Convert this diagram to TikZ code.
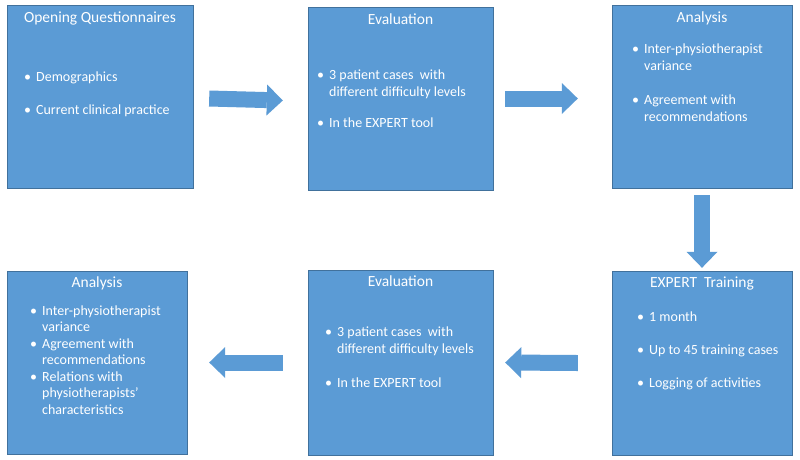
\documentclass[tikz,border=0pt]{standalone}
\usepackage{fontspec}
\setmainfont{Carlito}
\usepackage{tikz}
\usetikzlibrary{arrows.meta,positioning}
\definecolor{boxc}{HTML}{5B9BD5}
\definecolor{edgec}{HTML}{41719C}
\tikzset{
  box/.style={draw=edgec,thin,fill=boxc,inner sep=0pt},
  ttl/.style={text=white,font=\fontsize{15.5}{18}\selectfont,anchor=base},
  body/.style={text=white,font=\fontsize{14}{17}\selectfont,anchor=base west,inner sep=0pt},
  ar/.style={boxc,line width=16pt,-{Triangle[length=16pt,width=31pt,line width=0pt]}}
}
\newcommand{\bl}{\textbullet}

\begin{document}
\begin{tikzpicture}[x=1pt,y=-1pt]
\useasboundingbox[fill=white] (0,0) rectangle (800,459);
\node[box,minimum width=186pt,minimum height=183pt] (oq) at (100,96.5) {};
\node[box,minimum width=185pt,minimum height=183pt] (ev1) at (400.5,98.5) {};
\node[box,minimum width=180pt,minimum height=183pt] (an1) at (702,96.5) {};
\node[box,minimum width=180pt,minimum height=184pt] (tr) at (702,363) {};
\node[box,minimum width=185pt,minimum height=185pt] (ev2) at (400.5,362.5) {};
\node[box,minimum width=180pt,minimum height=183pt] (an2) at (97,362.5) {};
\node[ttl] at ([yshift=-18pt]oq.north) {Opening Questionnaires};
\node[ttl] at ([yshift=-18pt]ev1.north) {Evaluation};
\node[ttl] at ([yshift=-18pt]an1.north) {Analysis};
\node[ttl] at ([yshift=-17pt]tr.north) {EXPERT\ \ Training};
\node[ttl] at ([yshift=-17pt]ev2.north) {Evaluation};
\node[ttl] at ([yshift=-17pt]an2.north) {Analysis};
\node[body] at (24,81) {\begin{tabular}[t]{@{}l@{\hspace{5pt}}l@{}}
  \bl & Demographics\\[16pt]
  \bl & Current clinical practice
\end{tabular}};
\node[body] at (317,79) {\begin{tabular}[t]{@{}l@{\hspace{5pt}}l@{}}
  \bl & 3 patient cases\ \ with\\
      & different difficulty levels\\[14pt]
  \bl & In the EXPERT tool
\end{tabular}};
\node[body] at (632,53) {\begin{tabular}[t]{@{}l@{\hspace{5pt}}l@{}}
  \bl & Inter-physiotherapist\\
      & variance\\[17pt]
  \bl & Agreement with\\
      & recommendations
\end{tabular}};
\node[body] at (637,321) {\begin{tabular}[t]{@{}l@{\hspace{5pt}}l@{}}
  \bl & 1 month\\[16pt]
  \bl & Up to 45 training cases\\[16pt]
  \bl & Logging of activities
\end{tabular}};
\node[body] at (325,336) {\begin{tabular}[t]{@{}l@{\hspace{5pt}}l@{}}
  \bl & 3 patient cases\ \ with\\
      & different difficulty levels\\[17pt]
  \bl & In the EXPERT tool
\end{tabular}};
\node[body,font=\fontsize{14}{16.5}\selectfont] at (30,315) {\begin{tabular}[t]{@{}l@{\hspace{5pt}}l@{}}
  \bl & Inter-physiotherapist\\
      & variance\\
  \bl & Agreement with\\
      & recommendations\\
  \bl & Relations with\\
      & physiotherapists'\\
      & characteristics
\end{tabular}};
\draw[ar] ([xshift=16pt,yshift=-2pt]oq.east) -- ([xshift=-25pt,yshift=-2pt]ev1.west);
\draw[ar] ([xshift=12pt]ev1.east) -- ([xshift=-34pt]ev1.east -| an1.west);
\draw[ar] ([yshift=-7pt]an1.south) -- ([yshift=3pt]tr.north);
\draw[ar] ([xshift=-34pt]tr.west) -- ([xshift=12pt]ev2.east);
\draw[ar] ([xshift=-25pt]ev2.west) -- ([xshift=22pt]an2.east);
\end{tikzpicture}
\end{document}
